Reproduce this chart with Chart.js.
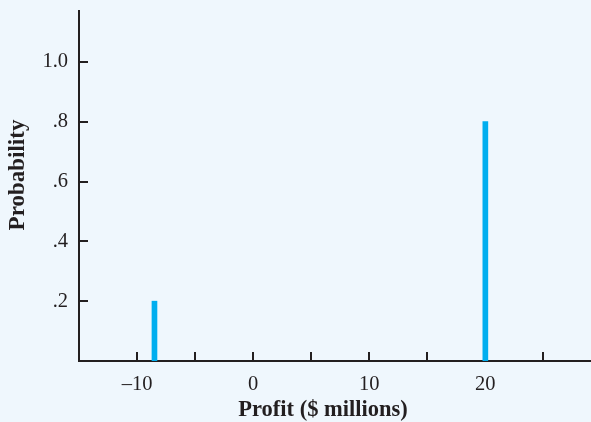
<!DOCTYPE html>
<html>
<head>
<meta charset="utf-8">
<script src="https://cdn.jsdelivr.net/npm/chart.js@4"></script>
<style>
  html, body { margin: 0; padding: 0; background: #eff7fd; overflow: hidden; }
  #wrap { width: 591px; height: 422px; position: relative; }
</style>
</head>
<body>
<div id="wrap"><canvas id="c" width="591" height="422"></canvas></div>
<script>
// ---- data ----
const profits = [-8.5, 20];          // profit values ($ millions)
const probabilities = [0.2, 0.8];    // probability of each profit
const xTickValues = [-10, 0, 10, 20];
const xTickLabels = ['\u201310', '0', '10', '20'];
const xTickMarks = [-10, -5, 0, 5, 10, 15, 20, 25];
const yTickValues = [0.2, 0.4, 0.6, 0.8, 1.0];
const yTickLabels = ['.2', '.4', '.6', '.8', '1.0'];
const xTitle = 'Profit ($ millions)';
const yTitle = 'Probability';

const ink = '#231f20';
const serif = '"Liberation Serif", "Times New Roman", serif';

const points = profits.map((p, i) => ({ x: p, y: probabilities[i] }));

const decor = {
  id: 'decor',
  beforeDatasetsDraw(chart) {
    const { ctx, chartArea, scales } = chart;
    ctx.save();
    ctx.strokeStyle = ink;
    ctx.lineWidth = 2;
    ctx.beginPath();
    xTickMarks.forEach(v => {
      const px = Math.round(scales.x.getPixelForValue(v));
      ctx.moveTo(px, chartArea.bottom);
      ctx.lineTo(px, chartArea.bottom - 9);
    });
    yTickValues.forEach(v => {
      const py = Math.round(scales.y.getPixelForValue(v));
      ctx.moveTo(chartArea.left, py);
      ctx.lineTo(chartArea.left + 9, py);
    });
    ctx.stroke();
    ctx.restore();
  },
  afterDraw(chart) {
    const { ctx } = chart;
    ctx.save();
    ctx.fillStyle = ink;
    ctx.textAlign = 'center';
    ctx.textBaseline = 'middle';
    ctx.font = 'bold 22.5px ' + serif;
    ctx.fillText(xTitle, 323, 410);
    ctx.translate(18, 175);
    ctx.rotate(-Math.PI / 2);
    ctx.font = 'bold 23px ' + serif;
    ctx.fillText(yTitle, 0, 0);
    ctx.restore();
  }
};

new Chart(document.getElementById('c'), {
  type: 'bar',
  data: {
    datasets: [{
      data: points,
      backgroundColor: '#00aeef',
      borderWidth: 0,
      barThickness: 5
    }]
  },
  options: {
    responsive: false,
    animation: false,
    events: [],
    layout: { padding: 0 },
    plugins: { legend: { display: false }, tooltip: { enabled: false } },
    scales: {
      x: {
        type: 'linear',
        min: -15,
        max: 29.1,
        offset: false,
        afterBuildTicks: s => { s.ticks = xTickValues.map(v => ({ value: v })); },
        afterFit: s => { s.height = 61; },
        grid: { drawOnChartArea: false, drawTicks: false },
        border: { display: true, color: ink, width: 2 },
        ticks: {
          autoSkip: false,
          maxRotation: 0,
          padding: 11,
          color: ink,
          font: { family: serif, size: 20.5 },
          callback: (v) => { const i = xTickValues.indexOf(v); return i >= 0 ? xTickLabels[i] : ''; }
        }
      },
      y: {
        min: 0,
        max: 1.17,
        afterBuildTicks: s => { s.ticks = yTickValues.map(v => ({ value: v })); },
        afterFit: s => { s.width = 79; s.paddingTop = 11; },
        grid: { drawOnChartArea: false, drawTicks: false },
        border: { display: true, color: ink, width: 2 },
        ticks: {
          padding: 11,
          color: ink,
          font: { family: serif, size: 20.5 },
          callback: (v) => { const i = yTickValues.findIndex(t => Math.abs(t - v) < 1e-9); return i >= 0 ? yTickLabels[i] : ''; }
        }
      }
    }
  },
  plugins: [decor]
});
</script>
</body>
</html>
